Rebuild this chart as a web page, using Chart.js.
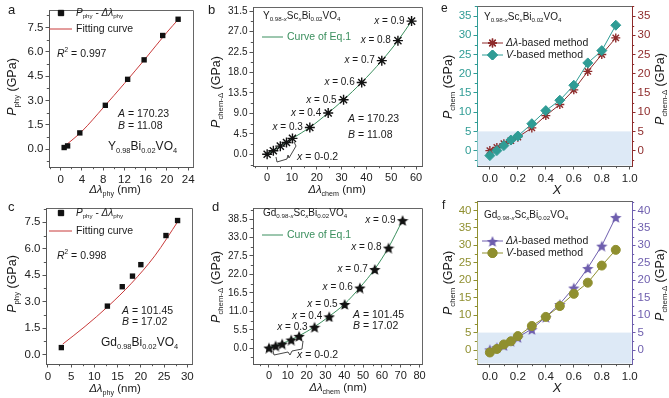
<!DOCTYPE html>
<html><head><meta charset="utf-8">
<script src="https://cdn.jsdelivr.net/npm/chart.js@4/dist/chart.umd.min.js"></script>
<style>
html,body{margin:0;padding:0;background:#fff;}
body{width:669px;height:398px;overflow:hidden;position:relative;}
canvas{position:absolute;left:0;top:0;}
</style></head>
<body>
<script>
// ---------------- DATA ----------------
// Panel a: Y0.98Bi0.02VO4, physical pressure vs shift
const aShift = [0.65, 1.3, 3.6, 8.4, 12.6, 15.7, 19.2, 22.1];
const aPressure = [0.1, 0.2, 1.0, 2.7, 4.3, 5.5, 7.0, 8.0];
const aFitShift = [1.0, 4, 8, 12, 16, 20, 22.3];
const aFitPressure = [0.25, 1.1, 2.55, 4.05, 5.6, 7.2, 8.05];
const aXTicks = [0, 4, 8, 12, 16, 20, 24];
const aYTicks = [0, 1.5, 3.0, 4.5, 6.0, 7.5];

// Panel b: Y0.98-xScxBi0.02VO4 chemical pressure
const bShift = [0, 2.5, 5.3, 7.8, 10.2, 17.2, 24.6, 30.8, 38.1, 46.2, 52.7, 58.2];
const bPressure = [0, 0.8, 1.8, 2.6, 3.5, 5.9, 9.1, 12.0, 15.8, 20.6, 25.0, 29.3];
const bLabels = ['', '', '', '', '', '0.3', '0.4', '0.5', '0.6', '0.7', '0.8', '0.9'];
const bXTicks = [0, 10, 20, 30, 40, 50, 60];
const bYTicks = [0, 4.5, 9.0, 13.5, 18.0, 22.5, 27.0, 31.5];

// Panel c: Gd0.98Bi0.02VO4
const cShift = [2.9, 12.8, 16.0, 18.2, 20.0, 25.4, 27.9];
const cPressure = [0.4, 2.75, 3.85, 4.45, 5.1, 6.75, 7.6];
const cFitShift = [3.2, 8, 13, 18, 23, 28.1];
const cFitPressure = [0.6, 1.6, 2.75, 4.05, 5.6, 7.6];
const cXTicks = [0, 5, 10, 15, 20, 25, 30];
const cYTicks = [0, 1.5, 3.0, 4.5, 6.0, 7.5];

// Panel d: Gd0.98-xScxBi0.02VO4
const dShift = [0, 3.5, 7.0, 11.8, 16.0, 24.2, 32.0, 40.2, 48.3, 56.2, 63.5, 71.0];
const dPressure = [0.2, 0.8, 1.4, 2.6, 3.7, 6.4, 9.5, 13.2, 18.1, 23.6, 30.0, 38.2];
const dLabels = ['', '', '', '', '', '0.3', '0.4', '0.5', '0.6', '0.7', '0.8', '0.9'];
const dXTicks = [0, 10, 20, 30, 40, 50, 60, 70, 80];
const dYTicks = [0, 5.5, 11.0, 16.5, 22.0, 27.5, 33.0, 38.5];

// Panel e: Y series vs composition X
const eX = [0, 0.05, 0.1, 0.15, 0.2, 0.3, 0.4, 0.5, 0.6, 0.7, 0.8, 0.9];
const eShiftBased = [0, 0.8, 1.8, 2.6, 3.5, 5.9, 9.1, 12.0, 15.8, 20.6, 25.0, 29.3];
const eVolumeBased = [-1.3, 0.0, 1.3, 2.75, 3.8, 7.0, 10.4, 13.1, 17.0, 22.8, 26.0, 32.6];
const eXTicks = [0, 0.2, 0.4, 0.6, 0.8, 1.0];
const eYTicks = [0, 5, 10, 15, 20, 25, 30, 35];

// Panel f: Gd series vs composition X
const fX = [0, 0.05, 0.1, 0.15, 0.2, 0.3, 0.4, 0.5, 0.6, 0.7, 0.8, 0.9];
const fShiftBased = [0.2, 0.8, 1.4, 2.6, 3.7, 6.0, 9.5, 13.2, 17.9, 23.5, 29.9, 38.1];
const fVolumeBased = [-0.7, 0.3, 1.6, 2.5, 4.0, 6.9, 9.5, 12.6, 16.1, 19.3, 24.2, 28.7];
const fXTicks = [0, 0.2, 0.4, 0.6, 0.8, 1.0];
const fYTicks = [0, 5, 10, 15, 20, 25, 30, 35, 40];

const shadeLimit = 5; // GPa, shaded low-pressure band in e and f

// ---------------- STYLE / HELPERS ----------------
const FN = "'Liberation Sans Narrow','Liberation Sans',Arial,sans-serif";
const FR = "'Liberation Sans',Arial,sans-serif";
const AW = 40, AH = 30;
const TEAL = '#2f9c95', DRED = '#8e2b2b', OLIVE = '#8f8f2f', PURP = '#6e5eae', GREEN = '#3b8f5e', RED = '#c83a3a';

function pts(xs, ys){ return xs.map((x,i)=>({x:x, y:ys[i]})); }
function minorOf(ticks, lo, hi){
  const st = ticks[1]-ticks[0], out=[];
  for(let v = ticks[0]-st/2; v <= hi+1e-9; v += st){ if(v >= lo-1e-9) out.push(+v.toFixed(4)); }
  return out;
}
function starImg(size, color){
  const c=document.createElement('canvas'); c.width=c.height=size;
  const g=c.getContext('2d'); g.fillStyle=color; g.beginPath();
  const R=size/2, r=R*0.45;
  for(let i=0;i<10;i++){ const a=-Math.PI/2+i*Math.PI/5, rr=i%2?r:R; g.lineTo(R+rr*Math.cos(a), R+1+rr*Math.sin(a)); }
  g.closePath(); g.fill(); return c;
}
function fnt(size, it, fam){ return (it?'italic ':'')+size+'px '+fam; }
function drawRich(ctx, segs, x, y, o){
  const size=o.size||10, fam=o.fam||FN;
  ctx.save(); ctx.translate(x,y); if(o.rot) ctx.rotate(o.rot);
  const parts = segs.map(s=>{ const t=s[0], f=s[1]||''; const sub=f.includes('b'), sup=f.includes('p');
    const sz=(sub||sup)?size*0.62:size; ctx.font=fnt(sz,f.includes('i'),fam);
    return {t, sz, it:f.includes('i'), dy: sub?size*0.32:(sup?-size*0.38:0), w:ctx.measureText(t).width}; });
  const total = parts.reduce((a,p)=>a+p.w,0);
  let cx = o.align==='center'? -total/2 : (o.align==='right'? -total : 0);
  ctx.fillStyle=o.color||'#1a1a1a'; ctx.textBaseline='middle'; ctx.textAlign='left';
  for(const p of parts){ ctx.font=fnt(p.sz,p.it,fam); ctx.fillText(p.t,cx,p.dy); cx+=p.w; }
  ctx.restore();
}
function drawMarker(ctx, style, radius, x, y, fill, stroke, bw){
  ctx.save(); ctx.fillStyle=fill; ctx.strokeStyle=stroke; ctx.lineWidth=bw||1;
  if (Chart.helpers && Chart.helpers.drawPoint){
    Chart.helpers.drawPoint(ctx, {pointStyle:style, radius:radius, rotation:0, borderWidth:bw||1}, x, y);
    if (typeof style === 'string') { ctx.fill && (style!=='star') && ctx.fill(); if(bw) ctx.stroke(); }
  }
  ctx.restore();
}

function axisCfg(a, pos){
  return {
    type:'linear', position:pos, min:a.min, max:a.max,
    afterBuildTicks: s=>{ s.ticks = a.ticks.map(v=>({value:v})); },
    ticks:{ callback: v=>a.fmt(v), font:{family:FR, size:a.size||11}, color:a.color||'#222', padding:a.pad!==undefined?a.pad:2, maxRotation:0, autoSkip:false },
    grid:{ drawOnChartArea:false, tickLength:3.5, tickColor:a.axisColor||'#555', lineWidth:1 },
    border:{ color:a.axisColor||'#555', width:1 },
    afterFit: s=>{ if(pos==='bottom'){ s.height=AH; } else { s.width=AW; } s.paddingLeft=s.paddingRight=s.paddingTop=s.paddingBottom=0; }
  };
}

function panel(p){
  const cv=document.createElement('canvas'); cv.width=669; cv.height=398; document.body.appendChild(cv);
  const scales={ x:axisCfg(p.x,'bottom'), y:axisCfg(p.y,'left') };
  if(p.y2) scales.y2=axisCfg(p.y2,'right');
  const deco = {
    id:'deco'+p.id,
    beforeDatasetsDraw(chart){
      if(p.shade===undefined) return;
      const ctx=chart.ctx, ca=chart.chartArea, ys=chart.scales.y;
      ctx.save(); ctx.fillStyle='#dde9f6';
      const top=ys.getPixelForValue(p.shade);
      ctx.fillRect(ca.left+0.5, top, ca.right-ca.left-1, ca.bottom-top-0.5);
      ctx.restore();
    },
    afterDraw(chart){
      const ctx=chart.ctx, ca=chart.chartArea;
      ctx.save();
      // box top and right
      ctx.strokeStyle='#666'; ctx.lineWidth=1; ctx.beginPath();
      ctx.moveTo(Math.round(ca.left)+0.5, Math.round(ca.top)+0.5); ctx.lineTo(Math.round(ca.right)+0.5, Math.round(ca.top)+0.5);
      if(!p.y2){ ctx.lineTo(Math.round(ca.right)+0.5, Math.round(ca.bottom)+0.5); }
      ctx.stroke();
      // minor ticks
      const mt=(sc, list, pos, col)=>{ ctx.strokeStyle=col||'#555'; ctx.beginPath();
        for(const v of list){ const px=Math.round(sc.getPixelForValue(v))+0.5;
          if(pos==='bottom'){ ctx.moveTo(px, ca.bottom); ctx.lineTo(px, ca.bottom+2.2); }
          else if(pos==='left'){ ctx.moveTo(ca.left, px); ctx.lineTo(ca.left-2.2, px); }
          else { ctx.moveTo(ca.right, px); ctx.lineTo(ca.right+2.2, px); } }
        ctx.stroke(); };
      mt(chart.scales.x, minorOf(p.x.ticks,p.x.min,p.x.max), 'bottom', p.x.axisColor);
      mt(chart.scales.y, minorOf(p.y.ticks,p.y.min,p.y.max), 'left', p.y.axisColor);
      if(p.y2) mt(chart.scales.y2, minorOf(p.y2.ticks,p.y2.min,p.y2.max), 'right', p.y2.axisColor);
      // point labels
      if(p.ptLabels){
        const meta=chart.getDatasetMeta(p.ptLabels.ds);
        p.ptLabels.labels.forEach((l,i)=>{ if(!l) return; const el=meta.data[i];
          drawRich(ctx, [['x','i'],[' = '+l]], el.x-7, el.y, {size:10, align:'right'}); });
      }
      // legend items
      (p.legend||[]).forEach(L=>{
        if(L.line){ ctx.strokeStyle=L.line; ctx.lineWidth=1; ctx.beginPath(); ctx.moveTo(L.x0, L.y); ctx.lineTo(L.x1, L.y); ctx.stroke(); }
        if(L.marker){ drawMarker(ctx, L.marker, L.r, L.mx, L.y, L.fill, L.stroke, L.bw); }
      });
      // texts
      (p.texts||[]).forEach(T=>drawRich(ctx, T.segs, T.x, T.y, T));
      // brace
      if(p.brace){ ctx.strokeStyle='#333'; ctx.lineWidth=0.9; ctx.beginPath();
        p.brace.forEach((q,i)=> i?ctx.lineTo(q[0],q[1]):ctx.moveTo(q[0],q[1])); ctx.stroke(); }
      ctx.restore();
    }
  };
  new Chart(cv, {
    type:'scatter',
    data:{ datasets:p.datasets },
    options:{
      responsive:false, animation:false, devicePixelRatio:1, events:[],
      layout:{ padding:{ left:p.area.L-AW, right:669-p.area.R-(p.y2?AW:0), top:p.area.T, bottom:398-p.area.B-AH } },
      plugins:{ legend:{display:false}, tooltip:{enabled:false} },
      scales
    },
    plugins:[deco]
  });
}

const f1 = v=>v.toFixed(1), f0 = v=>String(Math.round(v));
const phyLegendSegs = [['P','i'],['phy','b'],[' - '],['Δλ','i'],['phy','b']];
const chemTitle = [['P','i'],['chem-Δ','b'],[' (GPa)']];
const starD = starImg(12, '#111');
const starF = starImg(12, PURP);

// ---------- a ----------
panel({ id:'a', area:{L:49,R:193,T:10,B:167},
  x:{min:-2.2,max:24.9,ticks:aXTicks,fmt:f0,size:11.5},
  y:{min:-1.1,max:8.57,ticks:aYTicks,fmt:f1,size:11.5},
  datasets:[
    {data:pts(aShift,aPressure), pointStyle:'rect', pointRadius:3.8, backgroundColor:'#111', borderColor:'#111', borderWidth:0},
    {data:pts(aFitShift,aFitPressure), showLine:true, pointRadius:0, borderColor:RED, borderWidth:1, tension:0.4, cubicInterpolationMode:'monotone'}
  ],
  legend:[{marker:'rect', r:3.8, mx:61, y:13, fill:'#111', stroke:'#111', bw:0},{line:RED, x0:49, x1:72, y:29}],
  texts:[
    {segs:phyLegendSegs, x:76, y:13, size:10},
    {segs:[['Fitting curve']], x:76, y:29, size:10.5},
    {segs:[['R','i'],['2','p'],[' = 0.997']], x:57, y:54, size:10.5},
    {segs:[['A','i'],[' = 170.23']], x:118, y:114, size:10.5},
    {segs:[['B','i'],[' = 11.08']], x:118, y:126, size:10.5},
    {segs:[['Y'],['0.98','b'],['Bi'],['0.02','b'],['VO'],['4','b']], x:108, y:147, size:12},
    {segs:[['Δλ','i'],['phy','b'],[' (nm)']], x:115, y:190, size:11.5, align:'center'},
    {segs:[['P','i'],['phy','b'],[' (GPa)']], x:13, y:87, size:12.5, align:'center', rot:-Math.PI/2, fam:FR},
    {segs:[['a']], x:8, y:10, size:13, fam:FR}
  ]
});

// ---------- b ----------
panel({ id:'b', area:{L:253,R:422,T:7,B:166},
  x:{min:-5.7,max:62.4,ticks:bXTicks,fmt:f0,size:11},
  y:{min:-2.57,max:32.4,ticks:bYTicks,fmt:f1,size:10},
  datasets:[
    {data:pts(bShift,bPressure), showLine:true, pointStyle:'star', pointRadius:5, pointBorderColor:'#111', pointBorderWidth:1.4, borderColor:GREEN, borderWidth:1, tension:0.3, cubicInterpolationMode:'monotone'}
  ],
  ptLabels:{ds:0, labels:bLabels},
  legend:[{line:GREEN, x0:262, x1:283, y:37}],
  brace:[[276,157],[277,162],[287,159],[288,155],[289,158],[296,146],[294,142]],
  texts:[
    {segs:[['Y'],['0.98-','b'],['x','bi'],['Sc'],['x','bi'],['Bi'],['0.02','b'],['VO'],['4','b']], x:263, y:16, size:10},
    {segs:[['Curve of Eq.1']], x:287, y:37, size:10.5, color:GREEN},
    {segs:[['A','i'],[' = 170.23']], x:348, y:119, size:10.5},
    {segs:[['B','i'],[' = 11.08']], x:348, y:135, size:10.5},
    {segs:[['x','i'],[' = 0-0.2']], x:297, y:157, size:10.5},
    {segs:[['Δλ','i'],['chem','b'],[' (nm)']], x:337, y:190, size:11.5, align:'center'},
    {segs:chemTitle, x:217, y:92, size:12.5, align:'center', rot:-Math.PI/2, fam:FR},
    {segs:[['b']], x:208, y:10, size:13, fam:FR}
  ]
});

// ---------- c ----------
panel({ id:'c', area:{L:46,R:192,T:208,B:364},
  x:{min:-0.4,max:31,ticks:cXTicks,fmt:f0,size:11.5},
  y:{min:-0.53,max:8.31,ticks:cYTicks,fmt:f1,size:11.5},
  datasets:[
    {data:pts(cShift,cPressure), pointStyle:'rect', pointRadius:3.8, backgroundColor:'#111', borderColor:'#111', borderWidth:0},
    {data:pts(cFitShift,cFitPressure), showLine:true, pointRadius:0, borderColor:RED, borderWidth:1, tension:0.4, cubicInterpolationMode:'monotone'}
  ],
  legend:[{marker:'rect', r:3.8, mx:61, y:213, fill:'#111', stroke:'#111', bw:0},{line:RED, x0:49, x1:72, y:231}],
  texts:[
    {segs:phyLegendSegs, x:76, y:213, size:10},
    {segs:[['Fitting curve']], x:76, y:231, size:10.5},
    {segs:[['R','i'],['2','p'],[' = 0.998']], x:57, y:256, size:10.5},
    {segs:[['A','i'],[' = 101.45']], x:122, y:311, size:10.5},
    {segs:[['B','i'],[' = 17.02']], x:122, y:322, size:10.5},
    {segs:[['Gd'],['0.98','b'],['Bi'],['0.02','b'],['VO'],['4','b']], x:101, y:343, size:12},
    {segs:[['Δλ','i'],['phy','b'],[' (nm)']], x:115, y:389, size:11.5, align:'center'},
    {segs:[['P','i'],['phy','b'],[' (GPa)']], x:13, y:284, size:12.5, align:'center', rot:-Math.PI/2, fam:FR},
    {segs:[['c']], x:8, y:207, size:13, fam:FR}
  ]
});

// ---------- d ----------
panel({ id:'d', area:{L:253,R:422,T:208,B:364},
  x:{min:-8.5,max:81.3,ticks:dXTicks,fmt:f0,size:11},
  y:{min:-4.7,max:41.8,ticks:dYTicks,fmt:f1,size:10},
  datasets:[
    {data:pts(dShift,dPressure), showLine:true, pointStyle:starD, pointRadius:6, borderColor:GREEN, borderWidth:1, tension:0.3, cubicInterpolationMode:'monotone'}
  ],
  ptLabels:{ds:0, labels:dLabels},
  legend:[{line:GREEN, x0:262, x1:283, y:235}],
  brace:[[273,351],[274,355],[288,352],[290,355],[292,351],[302,349],[303,341]],
  texts:[
    {segs:[['Gd'],['0.98-','b'],['x','bi'],['Sc'],['x','bi'],['Bi'],['0.02','b'],['VO'],['4','b']], x:263, y:213, size:10},
    {segs:[['Curve of Eq.1']], x:287, y:235, size:10.5, color:GREEN},
    {segs:[['A','i'],[' = 101.45']], x:353, y:315, size:10.5},
    {segs:[['B','i'],[' = 17.02']], x:353, y:326, size:10.5},
    {segs:[['x','i'],[' = 0-0.2']], x:297, y:355, size:10.5},
    {segs:[['Δλ','i'],['chem','b'],[' (nm)']], x:338, y:388, size:11.5, align:'center'},
    {segs:chemTitle, x:217, y:287, size:12.5, align:'center', rot:-Math.PI/2, fam:FR},
    {segs:[['d']], x:212, y:207, size:13, fam:FR}
  ]
});

// ---------- e ----------
panel({ id:'e', area:{L:477,R:632,T:4,B:166}, shade:shadeLimit,
  x:{min:-0.092,max:1.016,ticks:eXTicks,fmt:f1,size:11.5},
  y:{min:-4.0,max:37.6,ticks:eYTicks,fmt:f0,size:11.5,color:TEAL,axisColor:TEAL},
  y2:{min:-4.0,max:37.6,ticks:eYTicks,fmt:f0,size:11.5,color:DRED,axisColor:DRED},
  datasets:[
    {data:pts(eX,eVolumeBased), yAxisID:'y', showLine:true, pointStyle:'rectRot', pointRadius:5, backgroundColor:TEAL, borderColor:TEAL, borderWidth:1},
    {data:pts(eX,eShiftBased), yAxisID:'y2', showLine:true, pointStyle:'star', pointRadius:4.5, pointBorderWidth:1.4, backgroundColor:DRED, borderColor:DRED, borderWidth:1}
  ],
  legend:[
    {line:DRED, x0:482, x1:503, y:43, marker:'star', r:4.5, mx:492.5, fill:DRED, stroke:DRED, bw:1.4},
    {line:TEAL, x0:482, x1:503, y:55, marker:'rectRot', r:5, mx:492.5, fill:TEAL, stroke:TEAL, bw:1}
  ],
  texts:[
    {segs:[['Y'],['0.98-','b'],['x','bi'],['Sc'],['x','bi'],['Bi'],['0.02','b'],['VO'],['4','b']], x:484, y:17, size:10},
    {segs:[['Δλ','i'],['-based method']], x:506, y:43, size:10.5},
    {segs:[['V','i'],['-based method']], x:506, y:55, size:10.5},
    {segs:[['X','i']], x:557, y:190, size:13, align:'center', fam:FR},
    {segs:[['P','i'],['chem','b'],[' (GPa)']], x:449, y:87, size:12.5, align:'center', rot:-Math.PI/2, fam:FR},
    {segs:chemTitle, x:661, y:89, size:12.5, align:'center', rot:-Math.PI/2, fam:FR},
    {segs:[['e']], x:441, y:9, size:12, fam:FR}
  ]
});

// ---------- f ----------
panel({ id:'f', area:{L:477,R:632,T:201,B:364}, shade:shadeLimit,
  x:{min:-0.092,max:1.016,ticks:fXTicks,fmt:f1,size:11.5},
  y:{min:-4.0,max:42.7,ticks:fYTicks,fmt:f0,size:11.5,color:OLIVE,axisColor:OLIVE},
  y2:{min:-4.0,max:42.7,ticks:fYTicks,fmt:f0,size:11.5,color:PURP,axisColor:PURP},
  datasets:[
    {data:pts(fX,fVolumeBased), yAxisID:'y', showLine:true, pointStyle:'circle', pointRadius:4.5, backgroundColor:OLIVE, borderColor:OLIVE, borderWidth:1},
    {data:pts(fX,fShiftBased), yAxisID:'y2', showLine:true, pointStyle:starF, pointRadius:6, backgroundColor:PURP, borderColor:PURP, borderWidth:1}
  ],
  legend:[
    {line:PURP, x0:482, x1:503, y:241, marker:starF, r:6, mx:492.5, fill:PURP, stroke:PURP, bw:0},
    {line:OLIVE, x0:482, x1:503, y:253, marker:'circle', r:4.5, mx:492.5, fill:OLIVE, stroke:OLIVE, bw:1}
  ],
  texts:[
    {segs:[['Gd'],['0.98-','b'],['x','bi'],['Sc'],['x','bi'],['Bi'],['0.02','b'],['VO'],['4','b']], x:484, y:215, size:10},
    {segs:[['Δλ','i'],['-based method']], x:506, y:241, size:10.5},
    {segs:[['V','i'],['-based method']], x:506, y:253, size:10.5},
    {segs:[['X','i']], x:557, y:388, size:13, align:'center', fam:FR},
    {segs:[['P','i'],['chem','b'],[' (GPa)']], x:449, y:283, size:12.5, align:'center', rot:-Math.PI/2, fam:FR},
    {segs:chemTitle, x:661, y:285, size:12.5, align:'center', rot:-Math.PI/2, fam:FR},
    {segs:[['f']], x:442, y:206, size:12, fam:FR}
  ]
});
</script>
</body></html>
